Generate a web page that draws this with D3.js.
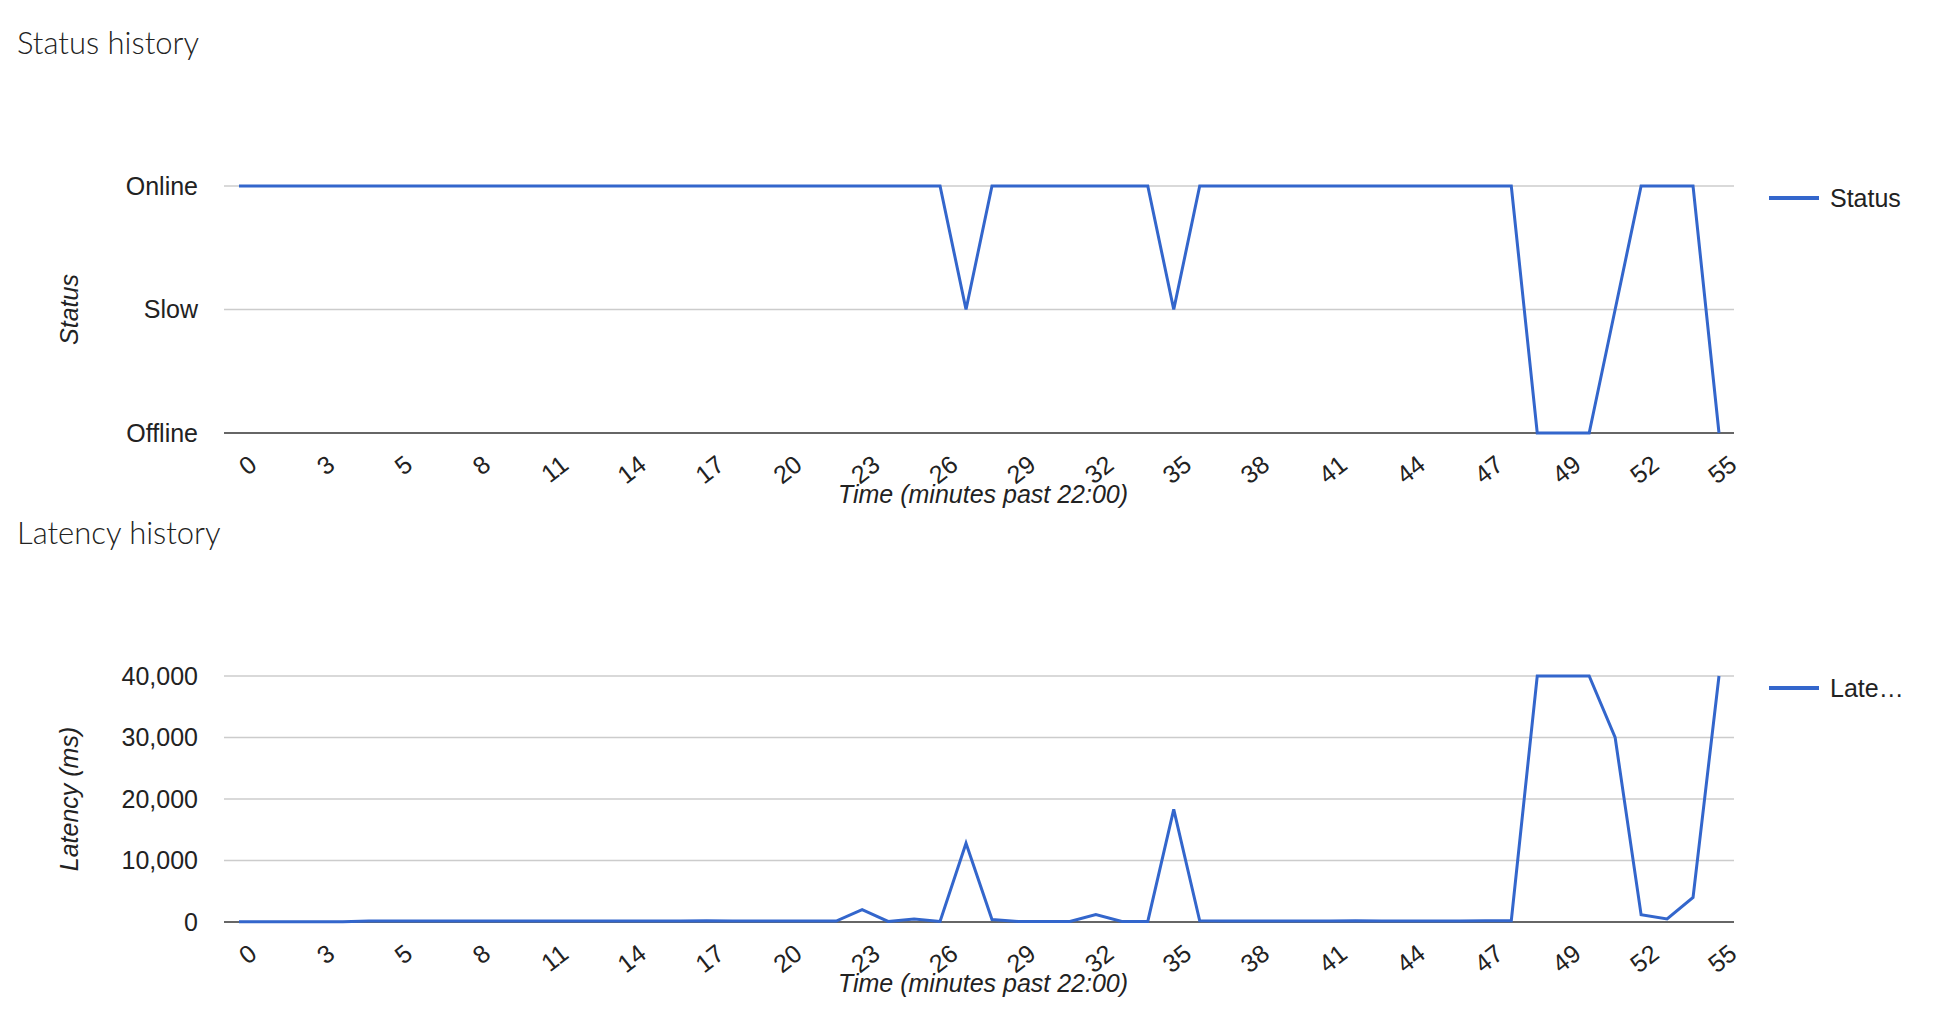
<!DOCTYPE html>
<html>
<head>
<meta charset="utf-8">
<script src="https://cdn.jsdelivr.net/npm/d3@7"></script>
<style>
  body { margin: 0; background: #fff; }
  text { font-family: Arial, "Liberation Sans", sans-serif; fill: #222; }
</style>
</head>
<body>
<svg id="chart" width="1934" height="1012"></svg>
<script>
// x categories: 58 samples, a label shown every 3rd sample
var tickLabels = ["0","3","5","8","11","14","17","20","23","26","29","32","35","38","41","44","47","49","52","55"];
var statusNames = ["Offline", "Slow", "Online"];
// 2 = Online, 1 = Slow, 0 = Offline
var statusValues = [2,2,2,2,2,2,2,2,2,2, 2,2,2,2,2,2,2,2,2,2,
                    2,2,2,2,2,2,2,2,1,2, 2,2,2,2,2,2,1,2,2,2,
                    2,2,2,2,2,2,2,2,2,2, 0,0,0,1,2,2,2,0];
var latencyValues = [50,50,50,50,50,150,150,150,150,150, 150,150,150,150,150,150,150,150,200,150,
                     150,150,150,150,2000,100,500,100,12800,400, 100,100,100,1200,100,100,18300,200,150,150,
                     150,150,150,200,150,150,150,150,200,200, 40000,40000,40000,30000,1200,500,4000,40000];
var latencyTicks = [0, 10000, 20000, 30000, 40000];

var svg = d3.select("#chart");
var left = 224, right = 1742 - 8;
var n = statusValues.length;
var x = d3.scalePoint().domain(d3.range(n)).range([239, 1727 - 8]);
var blue = "#3366cc";

function drawPanel(o) {
  var g = svg.append("g");
  var y = d3.scaleLinear().domain(o.domain).range([o.bottom, o.top]);

  g.append("text").attr("x", 17).attr("y", o.titleY)
    .style("font-family", "Lato, sans-serif").style("font-weight", 300)
    .style("font-size", "31px").text(o.title);

  o.ticks.forEach(function(t) {
    g.append("line").attr("x1", left).attr("x2", right)
      .attr("y1", y(t)).attr("y2", y(t))
      .attr("stroke", t === o.domain[0] ? "#333" : "#ccc")
      .attr("stroke-width", t === o.domain[0] ? 1.6 : 1.3);
    g.append("text").attr("x", 198).attr("y", y(t)).attr("dy", "0.35em")
      .attr("text-anchor", "end").style("font-size", "25px").text(o.fmt(t));
  });

  g.append("text")
    .attr("transform", "translate(78," + ((o.top + o.bottom) / 2) + ") rotate(-90)")
    .attr("text-anchor", "middle").style("font-size", "25px").style("font-style", "italic")
    .text(o.yTitle);

  tickLabels.forEach(function(lab, k) {
    var xi = x(k * 3);
    g.append("text")
      .attr("transform", "translate(" + (xi + 8) + "," + (o.bottom + 20) + ") rotate(-38)")
      .attr("text-anchor", "end").attr("dy", "0.75em").style("font-size", "25px").text(lab);
  });

  g.append("text").attr("x", 983).attr("y", o.bottom + 70)
    .attr("text-anchor", "middle").style("font-size", "25px").style("font-style", "italic")
    .text("Time (minutes past 22:00)");

  var line = d3.line().x(function(d, i) { return x(i); }).y(function(d) { return y(d); });
  g.append("path").datum(o.values).attr("d", line)
    .attr("fill", "none").attr("stroke", blue).attr("stroke-width", 3)
    .attr("stroke-linejoin", "miter");

  g.append("line").attr("x1", 1769).attr("x2", 1819)
    .attr("y1", o.top + 12).attr("y2", o.top + 12)
    .attr("stroke", blue).attr("stroke-width", 4);
  g.append("text").attr("x", 1830).attr("y", o.top + 12).attr("dy", "0.35em")
    .style("font-size", "25px").text(o.legend);
}

drawPanel({
  title: "Status history", titleY: 54, top: 186, bottom: 433,
  domain: [0, 2], ticks: [0, 1, 2], fmt: function(t) { return statusNames[t]; },
  yTitle: "Status", values: statusValues, legend: "Status"
});

drawPanel({
  title: "Latency history", titleY: 544, top: 676, bottom: 922,
  domain: [0, 40000], ticks: latencyTicks, fmt: d3.format(","),
  yTitle: "Latency (ms)", values: latencyValues, legend: "Late\u2026"
});
</script>
</body>
</html>
